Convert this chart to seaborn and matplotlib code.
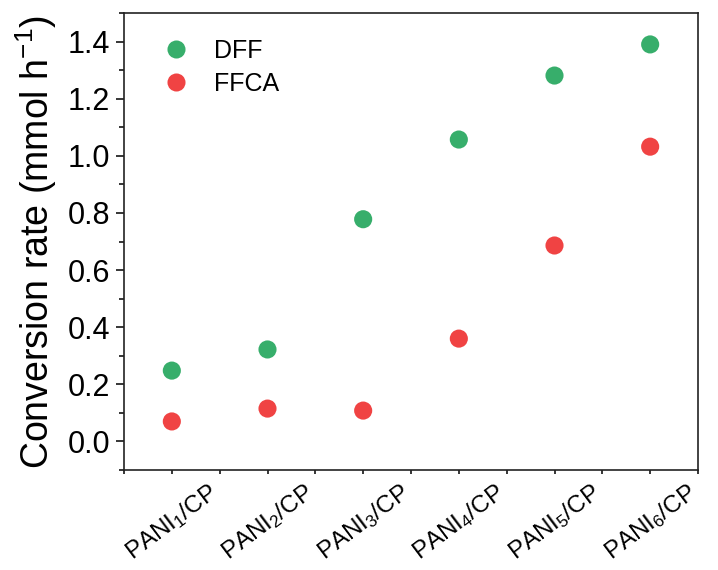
import matplotlib
matplotlib.use("Agg")
import matplotlib.pyplot as plt
import matplotlib.transforms as mtransforms
from matplotlib.ticker import MultipleLocator
from matplotlib.lines import Line2D
import seaborn as sns
import pandas as pd

catalysts = ["PANI$_1$/CP", "PANI$_2$/CP", "PANI$_3$/CP",
             "PANI$_4$/CP", "PANI$_5$/CP", "PANI$_6$/CP"]
dff_rate = [0.248, 0.322, 0.778, 1.057, 1.281, 1.390]
ffca_rate = [0.070, 0.115, 0.108, 0.360, 0.686, 1.032]
products = ["DFF", "FFCA"]
colors = {"DFF": "#37AE6B", "FFCA": "#F04343"}
yticks = [0.0, 0.2, 0.4, 0.6, 0.8, 1.0, 1.2, 1.4]

sns.set_theme(style="ticks")
plt.rcParams["font.family"] = ["Liberation Sans", "DejaVu Sans"]
plt.rcParams["text.color"] = "black"
plt.rcParams["mathtext.fontset"] = "custom"
plt.rcParams["mathtext.rm"] = "Liberation Sans"
plt.rcParams["mathtext.it"] = "Liberation Sans:italic"
plt.rcParams["mathtext.default"] = "regular"

df = pd.DataFrame({
    "pos": list(range(len(catalysts))) * 2,
    "rate": dff_rate + ffca_rate,
    "product": [products[0]] * len(catalysts) + [products[1]] * len(catalysts),
})

fig = plt.figure(figsize=(7.18, 5.70), dpi=100)
ax = fig.add_axes([124 / 718, 100 / 570, 574 / 718, 457 / 570])

sns.scatterplot(data=df, x="pos", y="rate", hue="product", hue_order=products,
                palette=colors, s=170, edgecolor="none", linewidth=0, ax=ax,
                legend=False, zorder=3)

ax.set_xlim(-0.5, 5.5)
ax.set_ylim(-0.1, 1.5)
ax.set_xticks(range(len(catalysts)))
ax.set_xticklabels(catalysts, rotation=37, ha="center", fontsize=17.5)
offset = mtransforms.ScaledTranslation(-10 / 100, 0, fig.dpi_scale_trans)
for lbl in ax.get_xticklabels():
    lbl.set_transform(lbl.get_transform() + offset)
ax.xaxis.set_minor_locator(MultipleLocator(0.5))
ax.set_yticks(yticks)
ax.set_yticklabels([f"{v:.1f}" for v in yticks])
ax.yaxis.set_minor_locator(MultipleLocator(0.1))

ax.tick_params(axis="y", which="major", direction="out", length=6, width=1.1,
               labelsize=22, pad=4, colors="black")
ax.tick_params(axis="y", which="minor", direction="out", length=3.5, width=1.1,
               colors="black")
ax.tick_params(axis="x", which="both", direction="out", length=3, width=1.1,
               colors="black")
ax.tick_params(axis="x", which="major", pad=4)

for sp in ax.spines.values():
    sp.set_visible(True)
    sp.set_linewidth(1.2)
    sp.set_color("#222222")

ax.set_xlabel("")
ax.set_ylabel("Conversion rate (mmol h$^{-1}$)", fontsize=27, labelpad=6,
              color="black")

# legend entries as plain markers with labels
handles = [Line2D([], [], marker="o", linestyle="none", markersize=13,
                  markerfacecolor=colors[p], markeredgecolor="none")
           for p in products]
ax.legend(handles, products, loc="upper left", bbox_to_anchor=(0.03, 0.965),
          frameon=False, fontsize=18, handletextpad=0.5, labelspacing=0.35,
          borderaxespad=0, labelcolor="black")

fig.savefig("out.png", dpi=100)
